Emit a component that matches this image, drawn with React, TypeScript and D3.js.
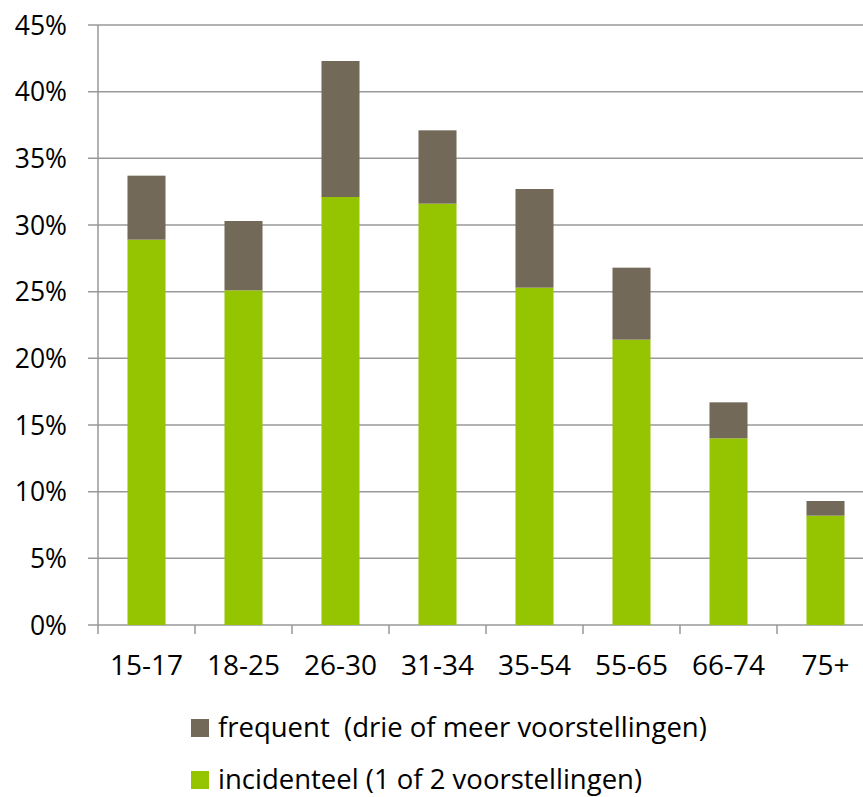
import React from "react";
import * as d3 from "d3";

const categories = ["15-17", "18-25", "26-30", "31-34", "35-54", "55-65", "66-74", "75+"];
const incidenteel = [28.9, 25.1, 32.1, 31.6, 25.3, 21.4, 14.0, 8.2];
const frequent = [4.8, 5.2, 10.2, 5.5, 7.4, 5.4, 2.7, 1.1];
const yTicks = [0, 5, 10, 15, 20, 25, 30, 35, 40, 45];
const seriesNames = ["frequent  (drie of meer voorstellingen)", "incidenteel (1 of 2 voorstellingen)"];
const colors = { frequent: "#736959", incidenteel: "#95c400" };

export default function App() {
  const W = 863, H = 797;
  const x0 = 98, x1 = 874, yTop = 25, yBot = 625;
  const x = d3.scaleBand<string>().domain(categories).range([x0, x1]).paddingInner(0.608).paddingOuter(0.304);
  const xt = d3.scaleBand<string>().domain(categories).range([x0, x1]);
  const y = d3.scaleLinear().domain([0, 45]).range([yBot, yTop]);
  const font = "'Open Sans', sans-serif";
  const grid = "#999999";
  return (
    <svg width={W} height={H} style={{ position: "absolute", left: 0, top: 0, background: "#fff" }} fontFamily={font}>
      {yTicks.map((t) => (
        <g key={t}>
          <line x1={88} x2={W} y1={y(t)} y2={y(t)} stroke={grid} strokeWidth={1.5} />
          <text x={67} y={y(t)} dy="0.36em" textAnchor="end" fontSize={26.5} fill="#000">{t}%</text>
        </g>
      ))}
      <line x1={x0} x2={x0} y1={yTop} y2={yBot + 9} stroke={grid} strokeWidth={1.5} />
      {categories.map((c) => (
        <line key={c} x1={xt(c)! + xt.bandwidth()} x2={xt(c)! + xt.bandwidth()} y1={yBot} y2={yBot + 9} stroke={grid} strokeWidth={1.5} />
      ))}
      {categories.map((c, i) => {
        const bx = x(c)!;
        const bw = x.bandwidth();
        const top1 = incidenteel[i];
        const top2 = incidenteel[i] + frequent[i];
        return (
          <g key={c}>
            <rect x={bx} y={y(top1)} width={bw} height={y(0) - y(top1)} fill={colors.incidenteel} />
            <rect x={bx} y={y(top2)} width={bw} height={y(top1) - y(top2)} fill={colors.frequent} />
          </g>
        );
      })}
      {categories.map((c) => (
        <text key={c} x={xt(c)! + xt.bandwidth() / 2} y={675} textAnchor="middle" fontSize={28} fill="#000">{c}</text>
      ))}
      <rect x={191} y={719} width={18} height={18} fill={colors.frequent} />
      <text x={218} y={737} fontSize={27.5} fill="#000" style={{ whiteSpace: "pre" }}>{seriesNames[0]}</text>
      <rect x={191} y={771} width={18} height={18} fill={colors.incidenteel} />
      <text x={218} y={789} fontSize={27.5} fill="#000">{seriesNames[1]}</text>
    </svg>
  );
}
